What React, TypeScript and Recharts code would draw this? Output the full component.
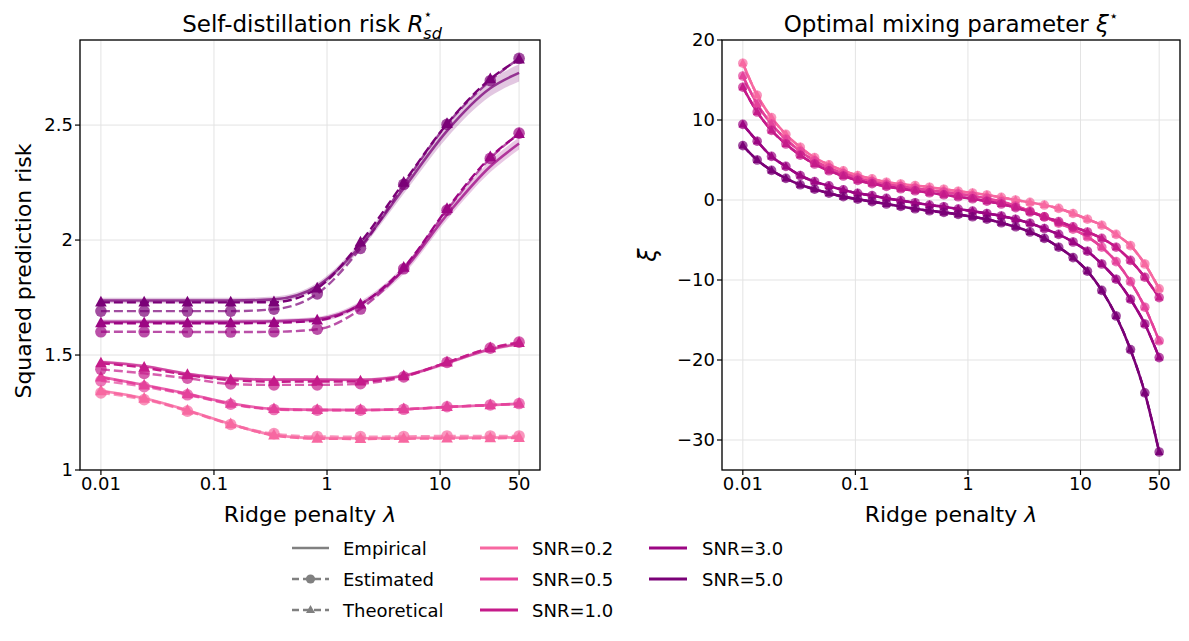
import React from "react";
import { ComposedChart, Line, Area, XAxis, YAxis, CartesianGrid } from "recharts";

const FONT = "'DejaVu Sans', sans-serif";

// ridge penalty grid (30 log-spaced values from 0.01 to 50)
const lambdas = [
  0.01, 0.01341, 0.01799, 0.02413, 0.03236, 0.04342, 0.05824, 0.07812, 0.1048, 0.1406,
  0.1886, 0.2529, 0.3393, 0.4551, 0.6105, 0.8189, 1.0985, 1.4735, 1.977, 2.651,
  3.556, 4.771, 6.4, 8.585, 11.52, 15.45, 20.72, 27.8, 37.28, 50,
];
// left panel is sampled every 3rd lambda plus the last one
const leftLambdas = [0.01, 0.02413, 0.05824, 0.1406, 0.3393, 0.8189, 1.977, 4.771, 11.52, 27.8, 50];

const xTicks = [0.01, 0.1, 1, 10, 50];
const riskTicks = [1, 1.5, 2, 2.5];
const xiTicks = [-30, -20, -10, 0, 10, 20];

const snrLabels = ["SNR=0.2", "SNR=0.5", "SNR=1.0", "SNR=3.0", "SNR=5.0"];
const snrColors = ["#f768a1", "#e4429b", "#c51b8a", "#9c0683", "#7a0177"];

// self-distillation risk (left)
const riskThe02 = [1.343, 1.310, 1.258, 1.199, 1.150, 1.136, 1.135, 1.136, 1.137, 1.138, 1.139];
const riskEst02 = [1.335, 1.306, 1.256, 1.198, 1.158, 1.146, 1.145, 1.146, 1.148, 1.148, 1.148];
const riskEmp02 = [1.345, 1.312, 1.260, 1.200, 1.152, 1.139, 1.138, 1.139, 1.140, 1.141, 1.142];

const riskThe05 = [1.403, 1.368, 1.330, 1.288, 1.265, 1.261, 1.261, 1.264, 1.274, 1.282, 1.288];
const riskEst05 = [1.388, 1.362, 1.327, 1.286, 1.263, 1.260, 1.260, 1.264, 1.275, 1.283, 1.289];
const riskEmp05 = [1.405, 1.370, 1.332, 1.290, 1.266, 1.262, 1.261, 1.264, 1.274, 1.282, 1.288];

const riskThe10 = [1.464, 1.445, 1.413, 1.391, 1.384, 1.385, 1.385, 1.408, 1.468, 1.530, 1.553];
const riskEst10 = [1.438, 1.420, 1.399, 1.374, 1.370, 1.370, 1.375, 1.405, 1.468, 1.530, 1.556];
const riskEmp10 = [1.470, 1.452, 1.418, 1.398, 1.393, 1.393, 1.392, 1.410, 1.465, 1.525, 1.548];

const riskThe30 = [1.638, 1.638, 1.638, 1.638, 1.640, 1.650, 1.720, 1.880, 2.135, 2.360, 2.462];
const riskEst30 = [1.601, 1.601, 1.600, 1.600, 1.601, 1.612, 1.700, 1.875, 2.130, 2.355, 2.465];
const riskEmp30 = [1.645, 1.645, 1.645, 1.645, 1.647, 1.656, 1.720, 1.870, 2.110, 2.320, 2.420];

const riskThe50 = [1.729, 1.729, 1.729, 1.729, 1.730, 1.790, 1.990, 2.250, 2.505, 2.700, 2.786];
const riskEst50 = [1.691, 1.691, 1.691, 1.691, 1.699, 1.766, 1.964, 2.242, 2.503, 2.693, 2.790];
const riskEmp50 = [1.737, 1.737, 1.737, 1.737, 1.742, 1.800, 1.975, 2.225, 2.475, 2.660, 2.727];

// half-width of the empirical band
const band02 = [0.006, 0.006, 0.006, 0.006, 0.006, 0.006, 0.006, 0.006, 0.006, 0.006, 0.006];
const band05 = [0.006, 0.006, 0.006, 0.006, 0.006, 0.006, 0.006, 0.006, 0.006, 0.006, 0.006];
const band10 = [0.007, 0.007, 0.007, 0.007, 0.007, 0.007, 0.007, 0.007, 0.008, 0.008, 0.008];
const band30 = [0.010, 0.010, 0.010, 0.010, 0.010, 0.011, 0.014, 0.018, 0.022, 0.025, 0.026];
const band50 = [0.012, 0.012, 0.012, 0.012, 0.012, 0.014, 0.018, 0.024, 0.030, 0.035, 0.037];

// optimal mixing parameter (right)
const xi02 = [17.1, 13.1, 10.3, 8.2, 6.6, 5.3, 4.4, 3.65, 3.06, 2.64, 2.22, 2.0, 1.8, 1.6, 1.35, 1.1, 0.88, 0.63, 0.33, 0.0, -0.3, -0.63, -1.05, -1.68, -2.4, -3.15, -4.3, -5.7, -8.0, -11.1];
const xi05 = [15.5, 12.0, 9.5, 7.6, 6.1, 4.9, 4.0, 3.3, 2.75, 2.3, 1.95, 1.68, 1.45, 1.22, 1.0, 0.75, 0.5, 0.2, -0.2, -0.75, -1.4, -2.1, -2.9, -3.65, -4.6, -5.9, -7.7, -10.2, -13.4, -17.6];
const xi10 = [14.1, 11.0, 8.7, 7.0, 5.6, 4.5, 3.65, 3.0, 2.45, 2.05, 1.7, 1.4, 1.15, 0.9, 0.65, 0.4, 0.15, -0.15, -0.5, -0.95, -1.5, -2.1, -2.7, -3.35, -4.0, -4.8, -5.9, -7.55, -9.65, -12.2];
const xi30 = [9.45, 7.35, 5.45, 4.2, 3.06, 2.3, 1.76, 1.26, 0.84, 0.55, 0.21, -0.08, -0.34, -0.63, -0.84, -1.13, -1.39, -1.68, -2.0, -2.4, -2.9, -3.57, -4.3, -5.25, -6.4, -8.0, -9.9, -12.4, -15.5, -19.7];
const xi50 = [6.8, 5.0, 3.7, 2.7, 1.9, 1.35, 0.85, 0.42, 0.1, -0.2, -0.5, -0.8, -1.1, -1.35, -1.55, -1.8, -2.1, -2.4, -2.85, -3.35, -4.0, -4.8, -5.9, -7.2, -8.9, -11.3, -14.5, -18.7, -24.1, -31.5];

const riskThe = [riskThe02, riskThe05, riskThe10, riskThe30, riskThe50];
const riskEst = [riskEst02, riskEst05, riskEst10, riskEst30, riskEst50];
const riskEmp = [riskEmp02, riskEmp05, riskEmp10, riskEmp30, riskEmp50];
const bands = [band02, band05, band10, band30, band50];
const xis = [xi02, xi05, xi10, xi30, xi50];

const leftRows = leftLambdas.map((lam, j) => {
  const row: any = { lam };
  snrLabels.forEach((_, k) => {
    row[`emp${k}`] = riskEmp[k][j];
    row[`est${k}`] = riskEst[k][j];
    row[`the${k}`] = riskThe[k][j];
    row[`band${k}`] = [riskEmp[k][j] - bands[k][j], riskEmp[k][j] + bands[k][j]];
  });
  return row;
});

const rightRows = lambdas.map((lam, i) => {
  const row: any = { lam };
  snrLabels.forEach((_, k) => {
    row[`xi${k}`] = xis[k][i];
  });
  return row;
});

const fmtLambda = (v: number) => String(v);
const fmtMinus = (v: number) => (v < 0 ? "\u2212" + Math.abs(v) : String(v));

function circleDot(id: string, color: string, r: number, opacity: number) {
  return (p: any) => {
    if (p.cx == null || p.cy == null) return <g key={`${id}-${p.index}`} />;
    return (
      <circle key={`${id}-${p.index}`} cx={p.cx} cy={p.cy} r={r} fill={color} fillOpacity={opacity} stroke="none" />
    );
  };
}

function triangleDot(id: string, color: string, r: number) {
  return (p: any) => {
    if (p.cx == null || p.cy == null) return <g key={`${id}-${p.index}`} />;
    const pts = `${p.cx},${p.cy - r * 1.15} ${p.cx - r},${p.cy + r * 0.7} ${p.cx + r},${p.cy + r * 0.7}`;
    return <polygon key={`${id}-${p.index}`} points={pts} fill={color} stroke="none" />;
  };
}

const tickStyle = { fontSize: 18, fill: "#000", fontFamily: FONT };

function xAxisProps() {
  return {
    dataKey: "lam",
    type: "number" as const,
    scale: "log" as const,
    domain: [0.006531, 76.55],
    allowDataOverflow: true,
    ticks: xTicks,
    tickFormatter: fmtLambda,
    tick: tickStyle,
    tickSize: 5,
    tickLine: { stroke: "#000", strokeWidth: 1.2 },
    axisLine: false,
    height: 30,
    interval: 0 as const,
  };
}

function RiskPanel() {
  const series: any[] = [];
  snrLabels.forEach((_, k) => {
    const c = snrColors[k];
    series.push(
      <Area
        key={`band${k}`}
        dataKey={`band${k}`}
        type="monotone"
        stroke="none"
        fill={c}
        fillOpacity={0.22}
        isAnimationActive={false}
      />
    );
    series.push(
      <Line
        key={`emp${k}`}
        dataKey={`emp${k}`}
        type="monotone"
        stroke={c}
        strokeOpacity={0.75}
        strokeWidth={2.6}
        dot={false}
        isAnimationActive={false}
      />
    );
    series.push(
      <Line
        key={`est${k}`}
        dataKey={`est${k}`}
        type="monotone"
        stroke={c}
        strokeOpacity={0.7}
        strokeWidth={2.4}
        strokeDasharray="9 4"
        dot={circleDot(`le${k}`, c, 5.8, 0.7)}
        isAnimationActive={false}
      />
    );
    series.push(
      <Line
        key={`the${k}`}
        dataKey={`the${k}`}
        type="monotone"
        stroke={c}
        strokeWidth={2.4}
        strokeDasharray="9 4"
        dot={triangleDot(`lt${k}`, c, 5.8)}
        isAnimationActive={false}
      />
    );
  });
  return (
    <ComposedChart width={560} height={641} data={leftRows} margin={{ top: 40, right: 20, bottom: 141, left: 20 }}>
      <CartesianGrid stroke="#e3e3e3" strokeWidth={1} />
      <XAxis {...xAxisProps()} />
      <YAxis
        type="number"
        domain={[1, 2.87]}
        allowDataOverflow
        ticks={riskTicks}
        tick={tickStyle}
        tickSize={5}
        tickLine={{ stroke: "#000", strokeWidth: 1.2 }}
        axisLine={false}
        width={60}
        interval={0}
      />
      {series}
    </ComposedChart>
  );
}

function XiPanel() {
  const series: any[] = [];
  snrLabels.forEach((_, k) => {
    const c = snrColors[k];
    const key = `xi${k}`;
    series.push(
      <Line key={`remp${k}`} dataKey={key} type="monotone" stroke={c} strokeWidth={2.6} dot={false} isAnimationActive={false} />
    );
    series.push(
      <Line
        key={`rest${k}`}
        dataKey={key}
        type="monotone"
        stroke={c}
        strokeOpacity={0.7}
        strokeWidth={2.2}
        strokeDasharray="9 4"
        dot={circleDot(`re${k}`, c, 4.8, 0.7)}
        isAnimationActive={false}
      />
    );
    series.push(
      <Line
        key={`rthe${k}`}
        dataKey={key}
        type="monotone"
        stroke={c}
        strokeWidth={2.2}
        strokeDasharray="9 4"
        dot={triangleDot(`rt${k}`, c, 4.3)}
        isAnimationActive={false}
      />
    );
  });
  return (
    <ComposedChart width={549} height={641} data={rightRows} margin={{ top: 40, right: 9, bottom: 141, left: 22 }}>
      <CartesianGrid stroke="#e3e3e3" strokeWidth={1} />
      <XAxis {...xAxisProps()} />
      <YAxis
        type="number"
        domain={[-33.75, 20]}
        allowDataOverflow
        ticks={xiTicks}
        tickFormatter={fmtMinus}
        tick={tickStyle}
        tickSize={5}
        tickLine={{ stroke: "#000", strokeWidth: 1.2 }}
        axisLine={false}
        width={60}
        interval={0}
      />
      {series}
    </ComposedChart>
  );
}

function Overlay() {
  const grey = "#808080";
  const legendRows = [548, 579, 610];
  return (
    <svg
      width={1189}
      height={641}
      style={{ position: "absolute", left: 0, top: 0, pointerEvents: "none", fontFamily: FONT }}
    >
      {/* panel frames */}
      <rect x={80} y={40} width={460} height={430} fill="none" stroke="#000" strokeWidth={1.3} />
      <rect x={722} y={40} width={458} height={430} fill="none" stroke="#000" strokeWidth={1.3} />

      {/* titles */}
      <text x={312} y={32} fontSize={23} textAnchor="middle" fill="#000">
        Self-distillation risk <tspan fontStyle="italic">R</tspan>
        <tspan fontSize={14} dy={-13}>⋆</tspan>
        <tspan fontSize={16} fontStyle="italic" dx={-9} dy={20}>sd</tspan>
      </text>
      <text x={951} y={32} fontSize={23} textAnchor="middle" fill="#000">
        Optimal mixing parameter <tspan fontStyle="italic">ξ</tspan>
        <tspan fontSize={15} dy={-11}>⋆</tspan>
      </text>

      {/* axis labels */}
      <text x={310} y={522} fontSize={22} textAnchor="middle" fill="#000">
        Ridge penalty <tspan fontStyle="italic">λ</tspan>
      </text>
      <text x={951} y={522} fontSize={22} textAnchor="middle" fill="#000">
        Ridge penalty <tspan fontStyle="italic">λ</tspan>
      </text>
      <text x={0} y={0} fontSize={22} textAnchor="middle" fill="#000" transform="translate(31,271) rotate(-90)">
        Squared prediction risk
      </text>
      <text x={0} y={0} fontSize={24} textAnchor="middle" fontStyle="italic" fill="#000" transform="translate(656,255) rotate(-90)">
        ξ
      </text>

      {/* legend: line styles */}
      <line x1={292} x2={329} y1={legendRows[0]} y2={legendRows[0]} stroke={grey} strokeWidth={2.6} />
      <text x={343} y={legendRows[0] + 7} fontSize={18} fill="#000">Empirical</text>
      <line x1={292} x2={329} y1={legendRows[1]} y2={legendRows[1]} stroke={grey} strokeWidth={2.6} strokeDasharray="7 4" />
      <circle cx={310.5} cy={legendRows[1]} r={4.6} fill={grey} />
      <text x={343} y={legendRows[1] + 7} fontSize={18} fill="#000">Estimated</text>
      <line x1={292} x2={329} y1={legendRows[2]} y2={legendRows[2]} stroke={grey} strokeWidth={2.6} strokeDasharray="7 4" />
      <polygon
        points={`310.5,${legendRows[2] - 5} 306,${legendRows[2] + 3} 315,${legendRows[2] + 3}`}
        fill={grey}
      />
      <text x={343} y={legendRows[2] + 7} fontSize={18} fill="#000">Theoretical</text>

      {/* legend: SNR colours */}
      {snrLabels.map((label, k) => {
        const col = k < 3 ? 0 : 1;
        const row = k < 3 ? k : k - 3;
        const x1 = col === 0 ? 480 : 649;
        const tx = col === 0 ? 532 : 702;
        const y = legendRows[row];
        return (
          <g key={label}>
            <line x1={x1} x2={x1 + 38} y1={y} y2={y} stroke={snrColors[k]} strokeWidth={2.8} />
            <text x={tx} y={y + 7} fontSize={18} fill="#000">{label}</text>
          </g>
        );
      })}
    </svg>
  );
}

export default function App() {
  return (
    <div style={{ position: "absolute", left: 0, top: 0, width: 1189, height: 641, background: "#fff", fontFamily: FONT }}>
      <div style={{ position: "absolute", left: 0, top: 0 }}>
        <RiskPanel />
      </div>
      <div style={{ position: "absolute", left: 640, top: 0 }}>
        <XiPanel />
      </div>
      <Overlay />
    </div>
  );
}
